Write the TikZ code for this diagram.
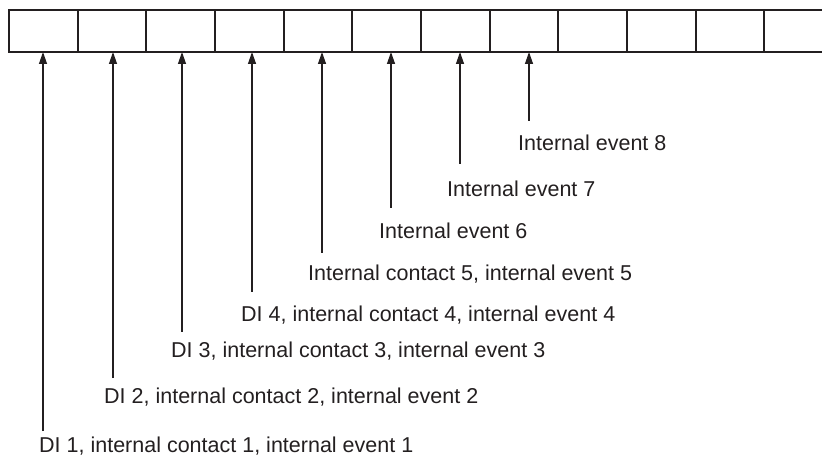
\documentclass[tikz,border=0pt]{standalone}
\usepackage{fontspec}
\setmainfont{Liberation Sans}
\usetikzlibrary{arrows.meta}
\definecolor{ink}{HTML}{231F20}

\begin{document}
\begin{tikzpicture}[x=1pt,y=-1pt,>={Triangle[length=12pt,width=8pt]},
  cell/.style={draw=ink,line width=2.2pt,minimum width=68.67pt,minimum height=42pt,inner sep=0pt,outer sep=0pt},
  evlabel/.style={anchor=west,inner sep=0pt,text=ink,font=\fontsize{21.5}{25}\selectfont},
  feed/.style={->,draw=ink,line width=1.3pt}]
  \useasboundingbox (0,0) rectangle (822,462);
  % register cells
  \foreach \i in {1,...,12}
    \node[cell] (c\i) at ({9+68.67*(\i-0.5)},31) {};
  % event labels, bottom to top
  \node[evlabel] (l1) at (39,446) {DI 1, internal contact 1, internal event 1};
  \node[evlabel] (l2) at (104,397) {DI 2, internal contact 2, internal event 2};
  \node[evlabel] (l3) at (171,351) {DI 3, internal contact 3, internal event 3};
  \node[evlabel] (l4) at (241,315) {DI 4, internal contact 4, internal event 4};
  \node[evlabel] (l5) at (308,274) {Internal contact 5, internal event 5};
  \node[evlabel] (l6) at (379,231) {Internal event 6};
  \node[evlabel] (l7) at (447,189) {Internal event 7};
  \node[evlabel] (l8) at (518,143) {Internal event 8};
  % feed points below the cells
  \coordinate (f1) at (43,431);
  \coordinate (f2) at (113,378);
  \coordinate (f3) at (182,332);
  \coordinate (f4) at (252,292);
  \coordinate (f5) at (322,253);
  \coordinate (f6) at (391,208);
  \coordinate (f7) at (460,164);
  \coordinate (f8) at (529,121);
  % arrows up to the cells
  \draw[feed] (f1) -- (f1 |- c1.south);
  \draw[feed] (f2) -- (f2 |- c2.south);
  \draw[feed] (f3) -- (f3 |- c3.south);
  \draw[feed] (f4) -- (f4 |- c4.south);
  \draw[feed] (f5) -- (f5 |- c5.south);
  \draw[feed] (f6) -- (f6 |- c6.south);
  \draw[feed] (f7) -- (f7 |- c7.south);
  \draw[feed] (f8) -- (f8 |- c8.south);
\end{tikzpicture}
\end{document}
